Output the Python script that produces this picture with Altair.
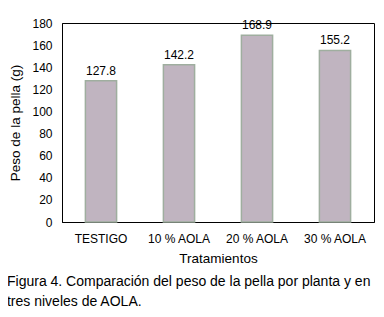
import altair as alt
import pandas as pd

tratamientos = ["TESTIGO", "10 % AOLA", "20 % AOLA", "30 % AOLA"]
peso = [127.8, 142.2, 168.9, 155.2]
etiquetas = ["127.8", "142.2", "168.9", "155.2"]
y_ticks = [0, 20, 40, 60, 80, 100, 120, 140, 160, 180]
caption = ["Figura 4. Comparación del peso de la pella por planta y en",
           "tres niveles de AOLA."]

df = pd.DataFrame({"Tratamientos": tratamientos, "peso": peso, "label": etiquetas})

FONT = "Liberation Sans"

x = alt.X("Tratamientos:N", sort=tratamientos,
          scale=alt.Scale(paddingInner=0.6, paddingOuter=0.3),
          axis=alt.Axis(title="Tratamientos", labelAngle=0, ticks=False,
                        labelPadding=11, titlePadding=7, labelFontSize=12,
                        titleFontSize=13.5, titleFontWeight="normal",
                        domainColor="black", labelColor="black", titleColor="black",
                        labelFont=FONT, titleFont=FONT))
y = alt.Y("peso:Q", scale=alt.Scale(domain=[0, 180]),
          axis=alt.Axis(title="Peso de la pella (g)", values=y_ticks, grid=False,
                        ticks=False, labelPadding=10, titlePadding=9,
                        labelOverlap=False,
                        labelFontSize=12, titleFontSize=13.5,
                        titleFontWeight="normal", domainColor="black",
                        labelColor="black", titleColor="black",
                        labelFont=FONT, titleFont=FONT))

base = alt.Chart(df).encode(x=x, y=y)
bars = base.mark_bar(fill="#c0b4c0", stroke="#9fae9f", strokeWidth=1.5)
text = base.mark_text(dy=-10, fontSize=12, font=FONT, color="black").encode(text="label:N")

chart = (bars + text).properties(
    width=312, height=199,
    autosize=alt.AutoSizeParams(type="none"),
    padding={"left": 54, "top": 15, "right": 2, "bottom": 87},
    title=alt.TitleParams(text=caption, orient="bottom", anchor="start",
                          frame="bounds", fontSize=14, fontWeight="normal",
                          font=FONT, color="black", lineHeight=20, offset=10, dx=-2),
).configure_view(stroke="black", strokeWidth=1)

chart.save("out.html", embed_options={"renderer": "svg", "actions": False})
